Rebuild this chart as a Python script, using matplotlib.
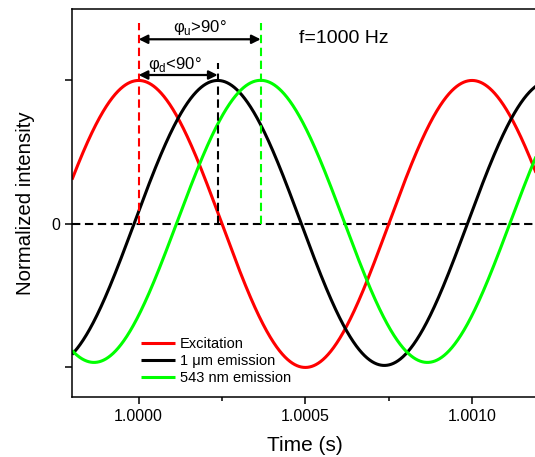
import numpy as np
import matplotlib
matplotlib.use("Agg")
import matplotlib.pyplot as plt
from matplotlib.ticker import MultipleLocator, FixedLocator

plt.rcParams['font.family'] = ['Liberation Sans', 'DejaVu Sans']
plt.rcParams['mathtext.fontset'] = 'custom'
plt.rcParams['mathtext.rm'] = 'Liberation Sans'

# ---- data ----
freq_hz = 1000.0
t_start = 0.9998
t_end = 1.0012
t_ref = 1.0000                      # excitation peak
series_labels = ['Excitation', '1 \u03bcm emission', '543 nm emission']
series_colors = ['#ff0000', '#000000', '#00ff00']
series_delay_s = [0.0, 0.000237, 0.000366]   # time of first peak after t_ref
series_amp = [1.0, 0.993, 0.983]
series_offset = [0.0, 0.007, 0.018]
x_ticks = [1.0000, 1.0005, 1.0010]
x_ticklabels = ['1.0000', '1.0005', '1.0010']
y_ticks = [-1, 0, 1]
y_ticklabels = ['', '0', '']
dash_tops = [1.40, 1.125, 1.40]      # top of vertical dashed markers
arrow_u_y = 1.287
arrow_d_y = 1.038

fig = plt.figure(figsize=(5.35, 4.57), dpi=100)
ax = fig.add_axes([72/535, 60/457, 466.7/535, 388/457])

t = np.linspace(t_start, t_end, 2000)
for lab, col, d, a, o in zip(series_labels, series_colors, series_delay_s, series_amp, series_offset):
    y = o + a * np.cos(2*np.pi*freq_hz*(t - t_ref - d))
    ax.plot(t, y, color=col, lw=2.2, label=lab, solid_capstyle='butt')

# zero line
ax.axhline(0, color='black', lw=1.5, ls=(0, (4, 2.2)), zorder=1)

# vertical markers at peaks
for col, d, top in zip(series_colors, series_delay_s, dash_tops):
    ax.plot([t_ref + d, t_ref + d], [0, top], color=col, lw=1.5, ls=(0, (4, 2.2)))

# arrows
ax.annotate('', xy=(t_ref, arrow_u_y), xytext=(t_ref + series_delay_s[2], arrow_u_y),
            arrowprops=dict(arrowstyle='<|-|>', color='black', lw=1.6,
                            mutation_scale=13, shrinkA=0, shrinkB=0))
ax.annotate('', xy=(t_ref, arrow_d_y), xytext=(t_ref + series_delay_s[1], arrow_d_y),
            arrowprops=dict(arrowstyle='<|-|>', color='black', lw=1.6,
                            mutation_scale=13, shrinkA=0, shrinkB=0))
ax.text(t_ref + series_delay_s[2]/2, arrow_u_y + 0.015, '\u03c6$_\\mathregular{u}$>90\u00b0',
        ha='center', va='bottom', fontsize=12)
ax.text(t_ref + series_delay_s[1]/2 - 0.00001, arrow_d_y + 0.01, '\u03c6$_\\mathregular{d}$<90\u00b0',
        ha='center', va='bottom', fontsize=12)

ax.text(0.4859, 0.925, 'f=1000 Hz', transform=ax.transAxes, fontsize=14,
        ha='left', va='center')

ax.set_xlim(t_start, t_end)
ax.set_ylim(-1.206, 1.498)
ax.xaxis.set_major_locator(FixedLocator(x_ticks))
ax.set_xticklabels(x_ticklabels)
ax.xaxis.set_minor_locator(MultipleLocator(0.00025))
ax.yaxis.set_major_locator(FixedLocator(y_ticks))
ax.set_yticklabels(y_ticklabels)
ax.tick_params(axis='both', which='major', direction='out', length=5, width=1.1, labelsize=11.5)
ax.tick_params(axis='x', which='minor', direction='out', length=3, width=1.1)
for s in ax.spines.values():
    s.set_linewidth(1.1)

ax.set_xlabel('Time (s)', fontsize=15, labelpad=9)
ax.set_ylabel('Normalized intensity', fontsize=14.7, labelpad=12)

leg = ax.legend(loc='center left', bbox_to_anchor=(0.148, 0.0928), frameon=False,
                fontsize=10.5, handlelength=2.33, handletextpad=0.35,
                borderpad=0, borderaxespad=0, labelspacing=0.2)

fig.savefig('out.png', dpi=100)
